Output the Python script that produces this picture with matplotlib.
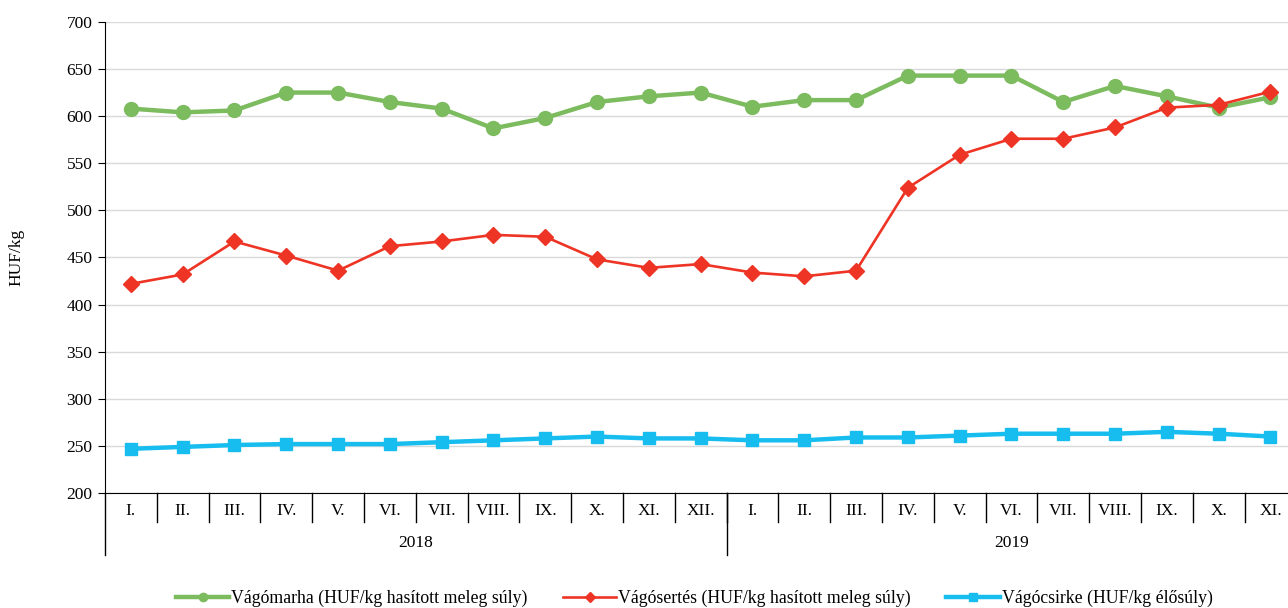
import matplotlib
matplotlib.use("Agg")
import matplotlib.pyplot as plt
import matplotlib.transforms as mtransforms

plt.rcParams['font.family'] = ['Liberation Serif', 'DejaVu Serif']

months = ["I.", "II.", "III.", "IV.", "V.", "VI.", "VII.", "VIII.", "IX.", "X.", "XI.", "XII.",
          "I.", "II.", "III.", "IV.", "V.", "VI.", "VII.", "VIII.", "IX.", "X.", "XI."]
years = ["2018", "2019"]
year_counts = [12, 11]

marha = [608, 604, 606, 625, 625, 615, 608, 587, 598, 615, 621, 625,
         610, 617, 617, 643, 643, 643, 615, 632, 621, 609, 620]
sertes = [422, 432, 467, 452, 436, 462, 467, 474, 472, 448, 439, 443,
          434, 430, 436, 524, 559, 576, 576, 588, 609, 612, 626]
csirke = [247, 249, 251, 252, 252, 252, 254, 256, 258, 260, 258, 258,
          256, 256, 259, 259, 261, 263, 263, 263, 265, 263, 260]

labels = ["Vágómarha (HUF/kg hasított meleg súly)",
          "Vágósertés (HUF/kg hasított meleg súly)",
          "Vágócsirke (HUF/kg élősúly)"]

fig = plt.figure(figsize=(12.88, 6.08), dpi=100)
ax = fig.add_axes([0.0815, 0.189, 0.925, 0.775])

x = list(range(len(months)))
ax.plot(x, marha, color='#7cbb5e', lw=3.2, marker='o', ms=10, label=labels[0], zorder=3)
ax.plot(x, sertes, color='#ee3425', lw=1.9, marker='D', ms=8, label=labels[1], zorder=4)
ax.plot(x, csirke, color='#16bdee', lw=3.2, marker='s', ms=9, label=labels[2], zorder=3)

ax.set_ylim(200, 700)
ax.set_yticks(range(200, 701, 50))
ax.set_xlim(-0.5, len(months) - 0.5)
ax.grid(axis='y', color='#d9d9d9', lw=1)
ax.set_axisbelow(True)
for s in ['top', 'right']:
    ax.spines[s].set_visible(False)
ax.spines['left'].set_color('black')
ax.spines['bottom'].set_color('black')
ax.tick_params(axis='y', labelsize=12.5, length=5, direction='out', pad=4)
ax.set_xticks([])
ax.set_ylabel("HUF/kg", fontsize=12.5, labelpad=30)

# multi level category axis
trans = mtransforms.blended_transform_factory(ax.transData, ax.transAxes)
for i, m in enumerate(months):
    ax.text(i, -0.038, m, transform=trans, ha='center', va='center', fontsize=12.5)
    if i > 0:
        ax.plot([i - 0.5, i - 0.5], [0, -0.062], transform=trans, color='black', lw=1, clip_on=False)
start = 0
for yr, n in zip(years, year_counts):
    ax.text(start + (n - 1) / 2, -0.105, yr, transform=trans, ha='center', va='center', fontsize=12.5)
    ax.plot([start - 0.5, start - 0.5], [0, -0.132], transform=trans, color='black', lw=1, clip_on=False)
    start += n

fig.legend(loc='center', bbox_to_anchor=(0.539, 0.016), ncol=3, frameon=False,
           fontsize=12.8, handlelength=3.0, columnspacing=2.0, handletextpad=0.1, markerscale=0.6)

fig.savefig("out.png", dpi=100)
